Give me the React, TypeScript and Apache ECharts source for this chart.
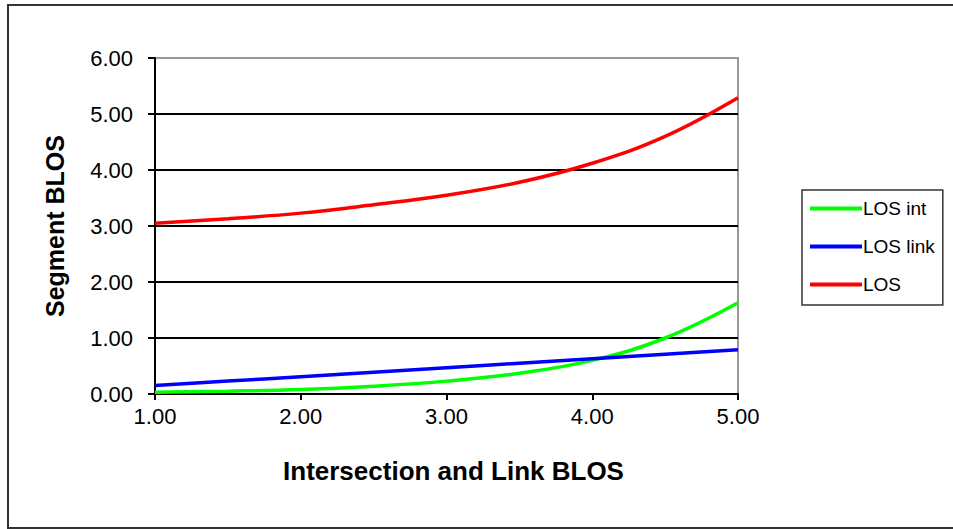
import React, { useEffect, useRef } from "react";
import * as echarts from "echarts";

const xValues = [1.0, 1.5, 2.0, 2.5, 3.0, 3.5, 4.0, 4.5, 5.0];
const losInt = [0.03, 0.05, 0.08, 0.14, 0.23, 0.37, 0.6, 1.0, 1.63];
const losLink = [0.15, 0.23, 0.31, 0.39, 0.47, 0.55, 0.63, 0.71, 0.79];
const los = [3.05, 3.13, 3.23, 3.38, 3.55, 3.78, 4.12, 4.6, 5.29];
const seriesNames = ["LOS int", "LOS link", "LOS"];
const seriesColors = ["#00FF00", "#0000FF", "#FF0000"];

const FONT = "'Liberation Sans', Arial, sans-serif";

export default function App() {
  const ref = useRef<HTMLDivElement>(null);
  useEffect(() => {
    if (!ref.current) return;
    const chart = echarts.init(ref.current, undefined, { renderer: "svg" });
    const data = [losInt, losLink, los];
    chart.setOption({
      animation: false,
      backgroundColor: "#fff",
      graphic: [
        {
          type: "rect",
          shape: { x: 8, y: 5, width: 980, height: 523 },
          style: { fill: "none", stroke: "#333", lineWidth: 2 },
          silent: true,
          z: -1,
        },
      ],
      grid: {
        left: 155,
        right: 215,
        top: 58,
        bottom: 135,
        show: true,
        borderColor: "#999",
        borderWidth: 2,
        backgroundColor: "#fff",
      },
      legend: {
        orient: "vertical",
        left: 802,
        top: 190,
        width: 146,
        padding: [9, 8, 11, 8],
        itemGap: 19,
        itemWidth: 52,
        itemHeight: 20,
        borderColor: "#333",
        borderWidth: 1.5,
        icon: "path://M0,8 L52,8 L52,12 L0,12 Z",
        data: seriesNames,
        textStyle: { fontFamily: FONT, fontSize: 19, color: "#000", padding: [0, 0, 0, -4] },
      },
      xAxis: {
        type: "value",
        min: 1,
        max: 5,
        interval: 1,
        name: "Intersection and Link BLOS",
        nameLocation: "middle",
        nameGap: 64,
        nameTextStyle: { fontFamily: FONT, fontSize: 26, fontWeight: "bold", color: "#000", padding: [0, 0, 0, 14] },
        axisLine: { lineStyle: { color: "#000", width: 2 } },
        axisTick: { show: true, length: 6, lineStyle: { color: "#000", width: 2 } },
        axisLabel: { fontFamily: FONT, fontSize: 22, color: "#000", margin: 11, formatter: (v: number) => v.toFixed(2) },
        splitLine: { show: false },
      },
      yAxis: {
        type: "value",
        min: 0,
        max: 6,
        interval: 1,
        name: "Segment BLOS",
        nameLocation: "middle",
        nameGap: 88,
        nameTextStyle: { fontFamily: FONT, fontSize: 25, fontWeight: "bold", color: "#000" },
        axisLine: { show: true, lineStyle: { color: "#000", width: 2 } },
        axisTick: { show: true, length: 7, lineStyle: { color: "#000", width: 2 } },
        axisLabel: { fontFamily: FONT, fontSize: 22, color: "#000", margin: 22, formatter: (v: number) => v.toFixed(2) },
        splitLine: { show: true, showMaxLine: false, lineStyle: { color: "#000", width: 2 } },
      },
      series: seriesNames.map((name, i) => ({
        name,
        type: "line",
        smooth: 0.4,
        showSymbol: false,
        symbol: "none",
        color: seriesColors[i],
        lineStyle: { width: 3.5, color: seriesColors[i] },
        data: xValues.map((x, j) => [x, data[i][j]]),
        z: 3,
      })),
    });
    return () => chart.dispose();
  }, []);
  return <div ref={ref} style={{ position: "absolute", left: 0, top: 0, width: 953, height: 529 }} />;
}
